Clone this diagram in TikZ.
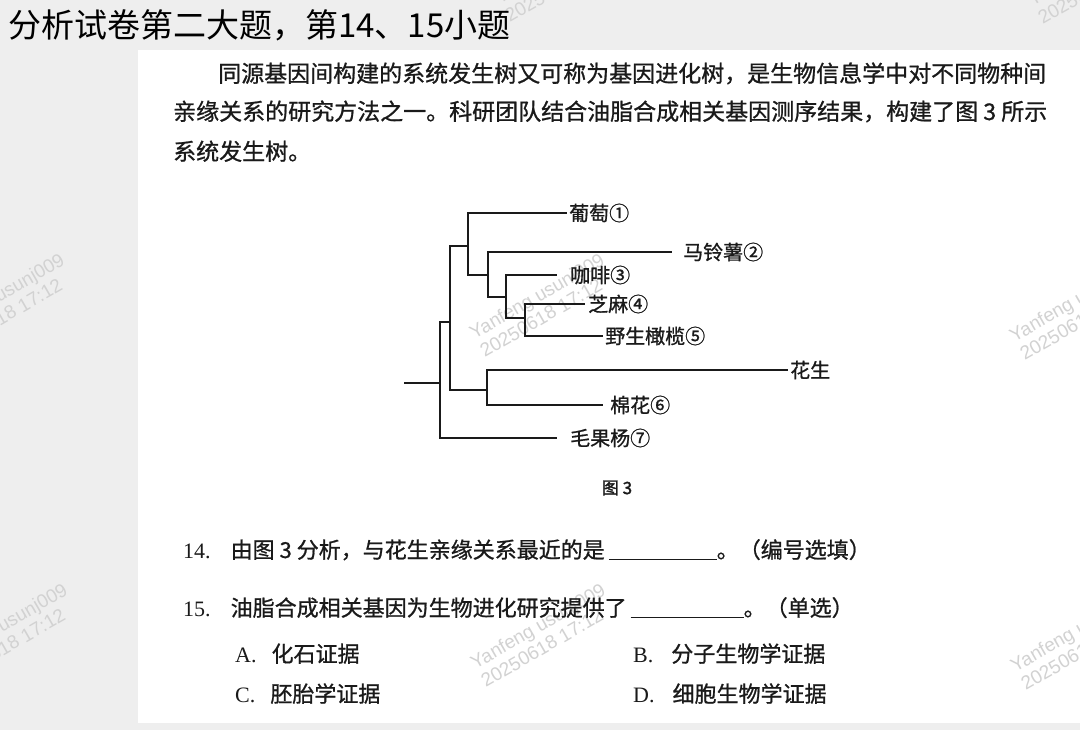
\documentclass[tikz,border=0pt]{standalone}
\usepackage{fontspec}
\setmainfont{Noto Sans CJK SC}
\setsansfont{Liberation Sans}
\newfontfamily\qnum{Liberation Serif}
\newfontfamily\cjkmed[FakeBold=0.9]{Noto Sans CJK SC}
\newfontfamily\cjkbold[FakeBold=2]{Noto Sans CJK SC}
\usetikzlibrary{positioning}
\definecolor{cbg}{HTML}{EEEEEE}
\definecolor{cink}{HTML}{1A1A1A}
\definecolor{cmark}{HTML}{D2D2D2}
\tikzset{
  txt/.style={anchor=base west, inner sep=0pt, text=cink, font=\cjkmed\fontsize{#1}{#1}\selectfont},
  txt/.default=22,
  branch/.style={draw=cink, line width=2.2pt},
  leaf/.style={inner sep=0pt, text=cink, font=\cjkmed\fontsize{20}{20}\selectfont},
}

\begin{document}
\begin{tikzpicture}[x=1pt, y=-1pt,
  wm/.style={font=\sffamily\fontsize{19}{21}\selectfont, text=cmark, rotate=30, align=left, inner sep=0pt}]
  \useasboundingbox (0,0) rectangle (1080,730);
  \clip (0,0) rectangle (1080,730);
  \fill[cbg] (0,0) rectangle (1080,730);
  \fill[white] (138,50) rectangle (1080,723);
  % ---- watermarks
  \foreach \j/\xx/\yy in {1/2/305, 2/542/305, 3/1082/308, 4/5/635, 5/543/635, 6/1083/638, 7/567/-30, 8/1100/-28}
    \node[wm] (wm\j) at (\xx,\yy) {Yanfeng usunj009\\20250618 17:12};
  % ---- title and text
  \node[txt=33, font=\fontsize{33}{33}\selectfont, text=black] (title) at (8,37.5) {分析试卷第二大题，第14、15小题};
  \node[txt=23] (p1) at (218,82) {同源基因间构建的系统发生树又可称为基因进化树，是生物信息学中对不同物种间};
  \node[txt=23] (p2) at (173,120) {亲缘关系的研究方法之一。科研团队结合油脂合成相关基因测序结果，构建了图 3 所示};
  \node[txt=23] (p3) at (173,160) {系统发生树。};
  % ---- tree
  \coordinate (rs) at (404,383);
  \coordinate (r) at (440,383);
  \coordinate (n1) at (450,322);
  \coordinate (n2) at (468,246);
  \coordinate (n3) at (487,390);
  \coordinate (n4) at (488,275);
  \coordinate (n5) at (506,297);
  \coordinate (n6) at (525,318);
  \foreach \j/\xx/\yy in {1/567/213, 2/672/252, 3/557/275, 4/585/304, 5/603/336, 6/603/405, 7/557/438, 8/788/370}
    \coordinate (e\j) at (\xx,\yy);
  \node[leaf, right=2pt of e1] (s1) {葡萄①};
  \node[leaf, right=11pt of e2] (s2) {马铃薯②};
  \node[leaf, right=13pt of e3] (s3) {咖啡③};
  \node[leaf, right=3pt of e4] (s4) {芝麻④};
  \node[leaf, right=2pt of e5] (s5) {野生橄榄⑤};
  \node[leaf, right=7pt of e6] (s6) {棉花⑥};
  \node[leaf, right=13pt of e7] (s7) {毛果杨⑦};
  \node[leaf, right=2pt of e8] (s8) {花生};
  \draw[branch] (rs) -- (r);
  \foreach \a/\b in {r/n1, r/e7, n1/n2, n1/n3, n2/e1, n2/n4, n4/e2, n4/n5, n5/e3, n5/n6, n6/e4, n6/e5, n3/e8, n3/e6}
    \draw[branch] (\a) |- (\b);
  \node[font=\cjkbold\fontsize{17}{17}\selectfont, text=cink] (fig) at (617,488) {图 3};
  % ---- questions
  \node[txt] (q14) at (183,558) {{\qnum 14.}\hspace{20pt}由图 3 分析，与花生亲缘关系最近的是\hspace{4pt}\underline{\hspace{108pt}}。（编号选填）};
  \node[txt] (q15) at (183,616) {{\qnum 15.}\hspace{20pt}油脂合成相关基因为生物进化研究提供了\hspace{4pt}\underline{\hspace{113pt}}。（单选）};
  \foreach \j/\xx/\yy/\gap/\t/\ans in {a/235/662/15/{A.}/化石证据, b/633/662/18/{B.}/分子生物学证据, c/235/702/15/{C.}/胚胎学证据, d/633/702/18/{D.}/细胞生物学证据}
    \node[txt] (o\j) at (\xx,\yy) {{\qnum \t}\hspace{\gap pt}\ans};
\end{tikzpicture}
\end{document}
